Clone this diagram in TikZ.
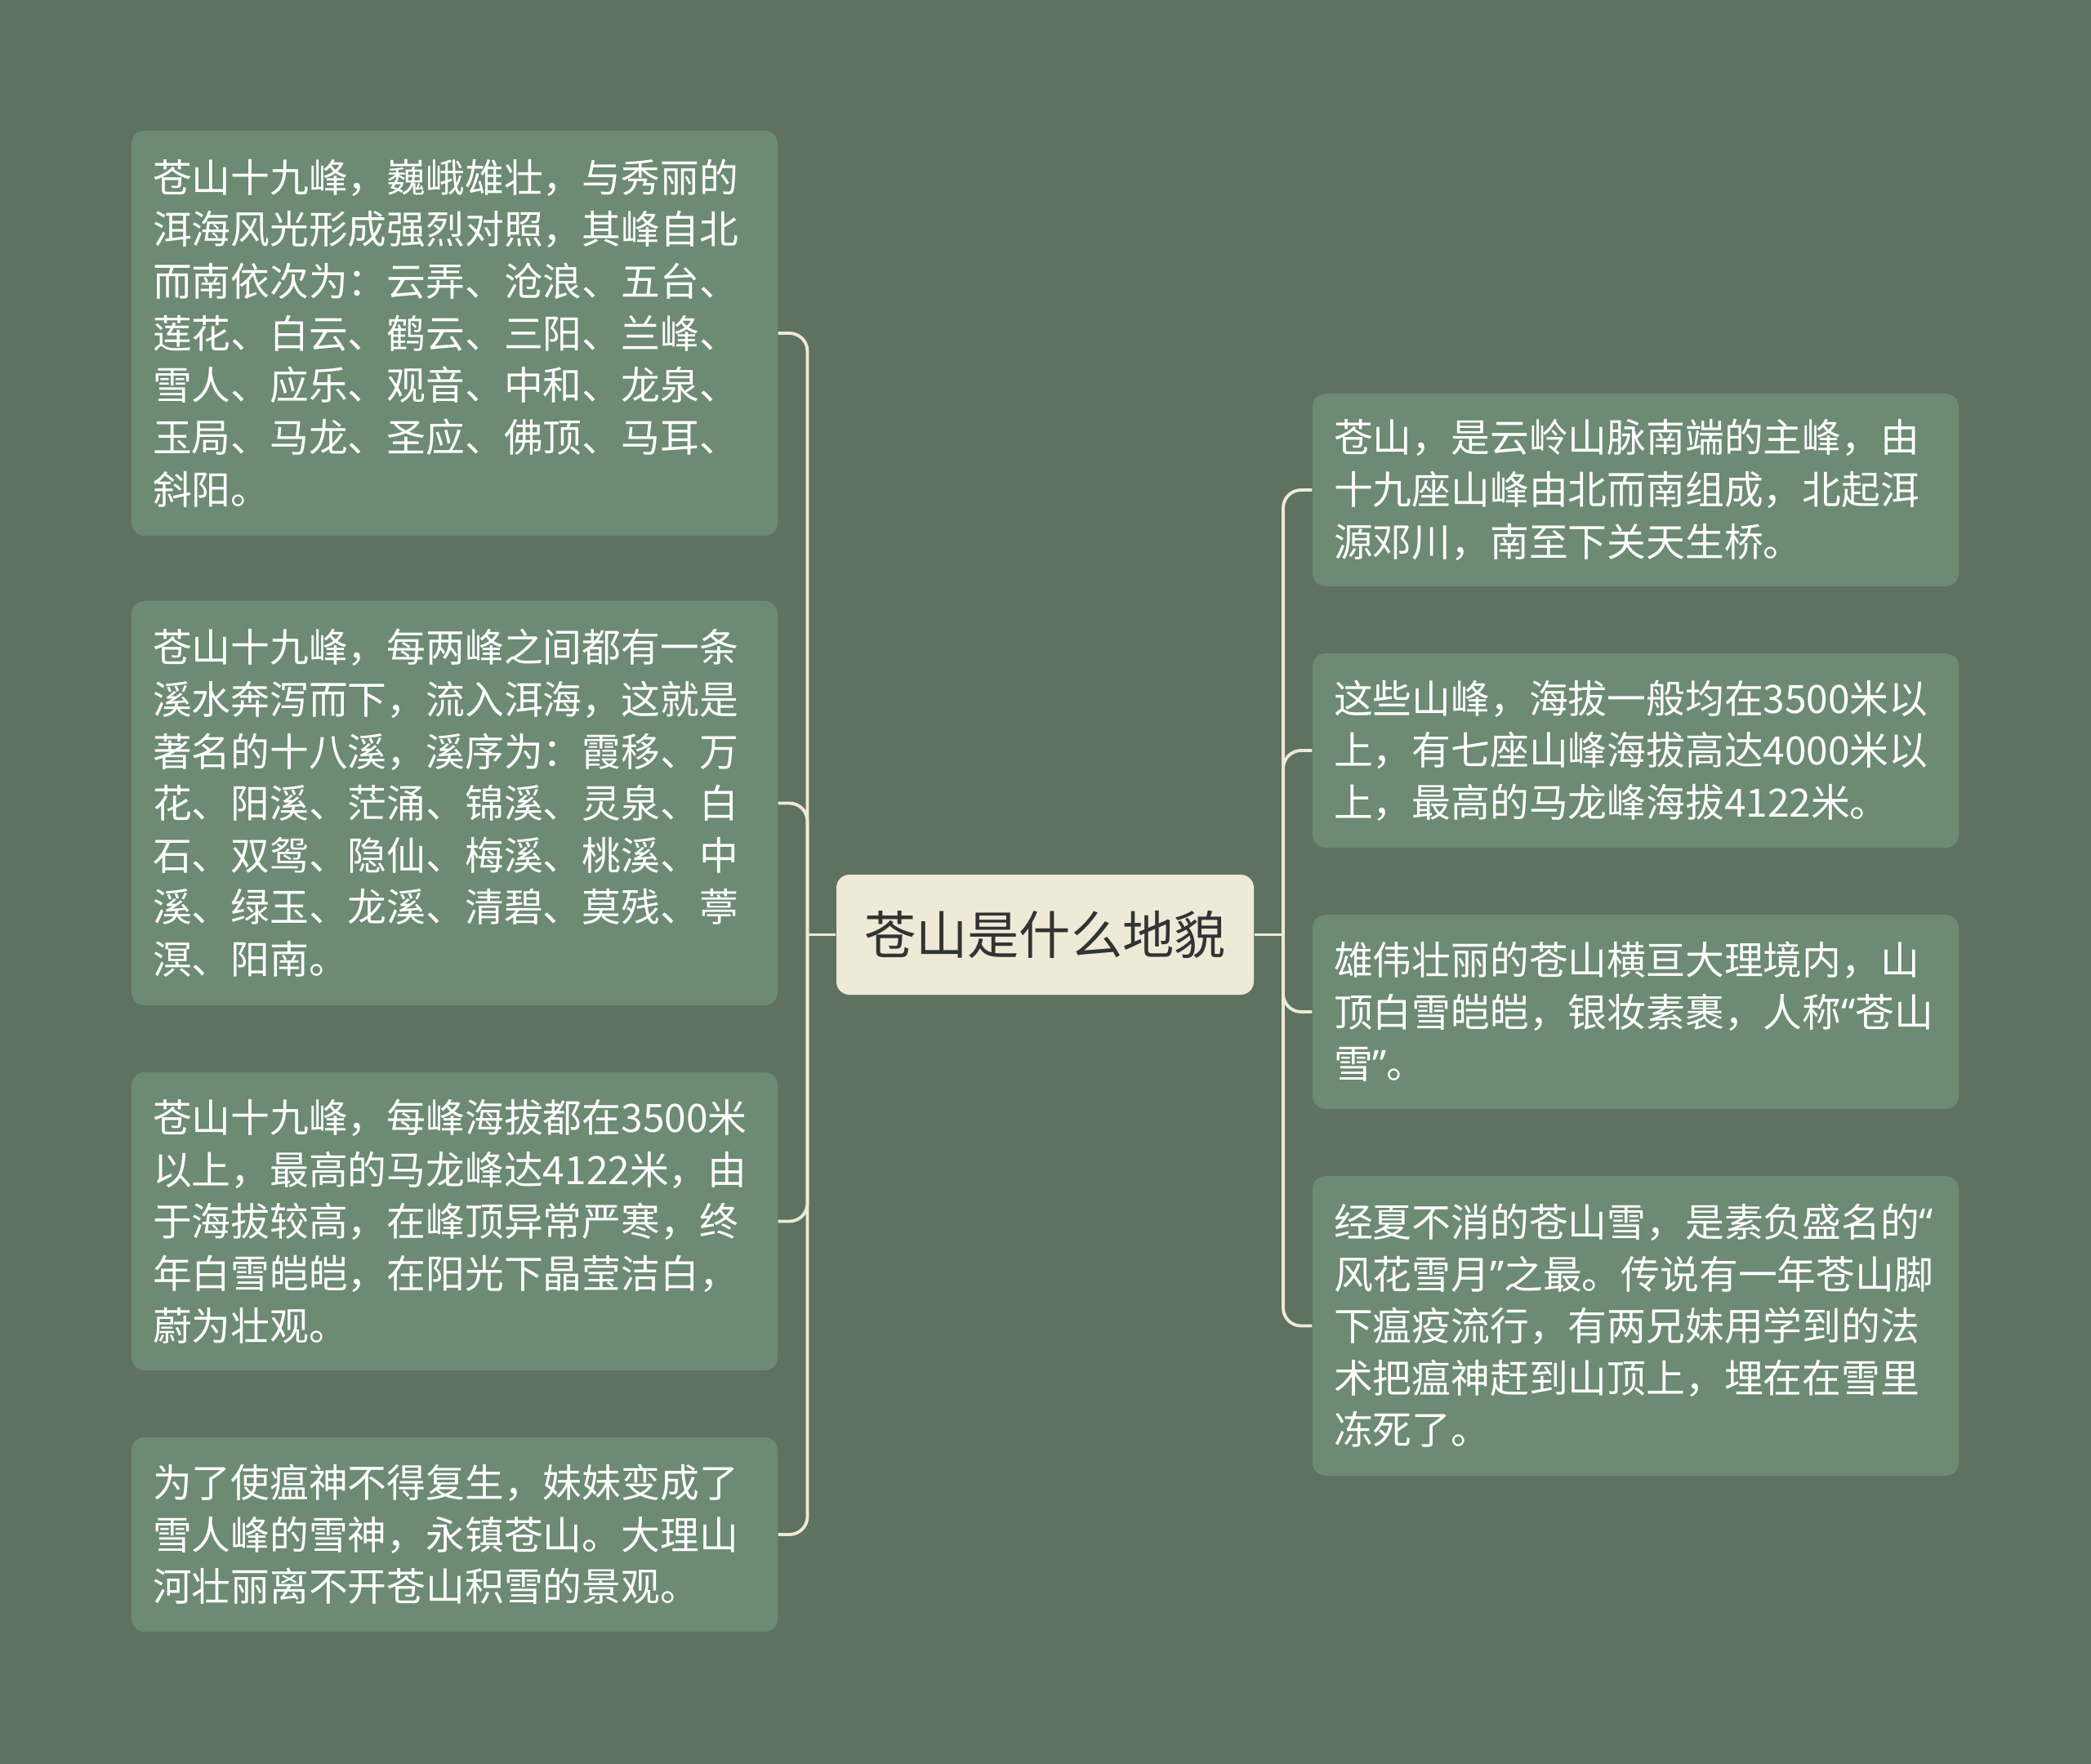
\documentclass[tikz,border=0pt]{standalone}
\usepackage{fontspec}
\setmainfont{Noto Sans CJK SC}
\newfontfamily\quotefont{Noto Sans}
\newcommand{\cnlq}{{\quotefont “}}
\newcommand{\cnrq}{{\quotefont ”}}
\usepackage{tikz}
\definecolor{bgback}{HTML}{5F7262}
\definecolor{leafgreen}{HTML}{6D8A73}
\definecolor{rootcream}{HTML}{EFE9D8}
\definecolor{rootink}{HTML}{333333}
\definecolor{linkcream}{HTML}{EFE9D6}

\begin{document}
\begin{tikzpicture}[
  leaf/.style={fill=leafgreen,rounded corners=0.16cm,text=white,align=left,
    text width=7.39cm,inner xsep=0.26cm,inner ysep=0pt,
    font=\fontsize{13.6pt}{18.1pt}\selectfont},
  topic/.style={fill=rootcream,rounded corners=0.16cm,text=rootink,
    minimum width=5.11cm,minimum height=1.47cm,inner sep=0pt,
    font=\fontsize{18pt}{22pt}\selectfont},
  link/.style={draw=linkcream,line width=1.1pt,rounded corners=0.22cm}]
  \fill[bgback] (0,0) rectangle (25.6,-21.6);

  \node[topic] (root) at (12.795,-11.445) {苍山是什么地貌};

  \node[leaf,minimum height=4.96cm] (l1) at (5.565,-4.08)
    {苍山十九峰，巍峨雄壮，与秀丽的\\洱海风光形成强烈对照，其峰自北\\而南依次为：云弄、沧浪、五台、\\莲花、白云、鹤云、三阳、兰峰、\\雪人、应乐、观音、中和、龙泉、\\玉局、马龙、圣应、佛顶、马耳、\\斜阳。};
  \node[leaf,minimum height=4.95cm] (l2) at (5.565,-9.835)
    {苍山十九峰，每两峰之间都有一条\\溪水奔泻而下，流入洱海，这就是\\著名的十八溪，溪序为：霞移、万\\花、阳溪、茫涌、锦溪、灵泉、白\\石、双鸳、隐仙、梅溪、桃溪、中\\溪、绿玉、龙溪、清碧、莫残、葶\\溟、阳南。};
  \node[leaf,minimum height=3.65cm] (l3) at (5.565,-14.955)
    {苍山十九峰，每峰海拔都在3500米\\以上，最高的马龙峰达4122米，由\\于海拔较高，在峰顶异常严寒，终\\年白雪皑皑，在阳光下晶莹洁白，\\蔚为壮观。};
  \node[leaf,minimum height=2.38cm] (l4) at (5.565,-18.79)
    {为了使瘟神不得复生，妹妹变成了\\雪人峰的雪神，永镇苍山。大理山\\河壮丽离不开苍山积雪的景观。};

  \node[leaf,minimum height=2.36cm] (r1) at (20.025,-6.00)
    {苍山，是云岭山脉南端的主峰，由\\十九座山峰由北而南组成，北起洱\\源邓川，南至下关天生桥。};
  \node[leaf,minimum height=2.38cm] (r2) at (20.025,-9.19)
    {这些山峰，海拔一般均在3500米以\\上，有七座山峰海拔高达4000米以\\上，最高的马龙峰海拔4122米。};
  \node[leaf,minimum height=2.38cm] (r3) at (20.025,-12.39)
    {雄伟壮丽的苍山横亘大理境内，山\\顶白雪皑皑，银妆素裹，人称\cnlq 苍山\\雪\cnrq 。};
  \node[leaf,minimum height=3.67cm] (r4) at (20.025,-16.235)
    {经夏不消的苍山雪，是素负盛名的\cnlq\\风花雪月\cnrq 之最。传说有一年苍山脚\\下瘟疫流行，有两兄妹用学到的法\\术把瘟神赶到山顶上，埋在在雪里\\冻死了。};

  \coordinate (lj) at (9.885,-11.445);
  \coordinate (rj) at (15.71,-11.445);
  \draw[link] (root.west) -- (lj);
  \draw[link] (root.east) -- (rj);
  \foreach \n in {l1,l2,l3,l4}
    \draw[link] (lj) |- (\n.east);
  \foreach \n in {r1,r2,r3,r4}
    \draw[link] (rj) |- (\n.west);
\end{tikzpicture}
\end{document}
